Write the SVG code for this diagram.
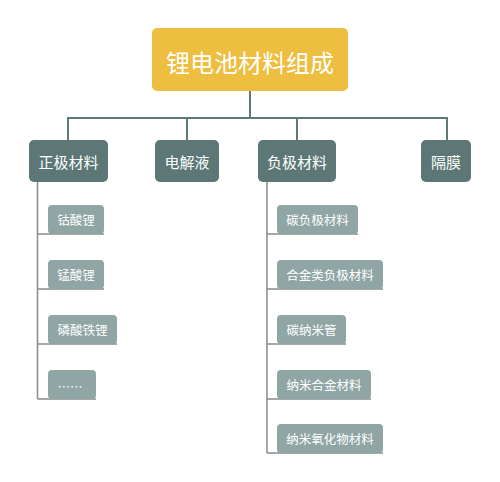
<svg xmlns="http://www.w3.org/2000/svg" width="500" height="482" viewBox="0 0 500 482">
<style>
text{font-family:"Noto Sans CJK SC","Liberation Sans",sans-serif;fill:#fff;text-anchor:middle;dominant-baseline:central}
.root{fill:#EDBE3F}
.l1{fill:#5C7775}
.l2{fill:#8FA6A4}
.t0{font-size:24px}
.t1{font-size:15px}
.t2{font-size:12.5px}
.c1{fill:none;stroke:#5E7A78;stroke-width:2}
.c2{fill:none;stroke:#8A8A8A;stroke-width:1.5}
</style>
<rect width="500" height="482" fill="#fff"/>
<g id="connectors">
<path class="c1" d="M250 91V118M68 118H447M68 117V140M187 117V140M297 117V140M447 117V140"/>
<path class="c2" d="M37.5 182V399M37.5 234H104M37.5 289H104M37.5 344H117M37.5 399H96"/>
<path class="c2" d="M267 182V453M267 234H358M267 289H383M267 344H346M267 399H371M267 453H383"/>
</g>
<g id="root"><rect class="root" x="152" y="28" width="196" height="63" rx="5"/><text class="t0" x="250" y="61">锂电池材料组成</text></g>
<g id="n-zhengji"><rect class="l1" x="29" y="140" width="79" height="42" rx="5"/><text class="t1" x="68.5" y="161">正极材料</text></g>
<g id="n-dianjieye"><rect class="l1" x="155" y="140" width="64" height="42" rx="5"/><text class="t1" x="187" y="161">电解液</text></g>
<g id="n-fuji"><rect class="l1" x="258" y="140" width="78" height="42" rx="5"/><text class="t1" x="297" y="161">负极材料</text></g>
<g id="n-gemo"><rect class="l1" x="421" y="140" width="50" height="42" rx="5"/><text class="t1" x="446" y="161">隔膜</text></g>
<g id="n-gusuanli"><rect class="l2" x="48" y="205" width="56" height="29" rx="4"/><text class="t2" x="76" y="219.5">钴酸锂</text></g>
<g id="n-mengsuanli"><rect class="l2" x="48" y="260" width="56" height="29" rx="4"/><text class="t2" x="76" y="274.5">锰酸锂</text></g>
<g id="n-linsuantieli"><rect class="l2" x="48" y="315" width="69" height="29" rx="4"/><text class="t2" x="82.5" y="329.5">磷酸铁锂</text></g>
<g id="n-etc"><rect class="l2" x="48" y="370" width="48" height="29" rx="4"/><text class="t2" x="70" y="386">……</text></g>
<g id="n-tanfuji"><rect class="l2" x="277" y="205" width="81" height="29" rx="4"/><text class="t2" x="317.5" y="219.5">碳负极材料</text></g>
<g id="n-hejin"><rect class="l2" x="277" y="260" width="106" height="29" rx="4"/><text class="t2" x="330" y="274.5">合金类负极材料</text></g>
<g id="n-tannami"><rect class="l2" x="277" y="315" width="69" height="29" rx="4"/><text class="t2" x="311.5" y="329.5">碳纳米管</text></g>
<g id="n-namihejin"><rect class="l2" x="277" y="370" width="94" height="29" rx="4"/><text class="t2" x="324" y="384.5">纳米合金材料</text></g>
<g id="n-namiyanghua"><rect class="l2" x="277" y="424" width="106" height="29" rx="4"/><text class="t2" x="330" y="438.5">纳米氧化物材料</text></g>
</svg>
